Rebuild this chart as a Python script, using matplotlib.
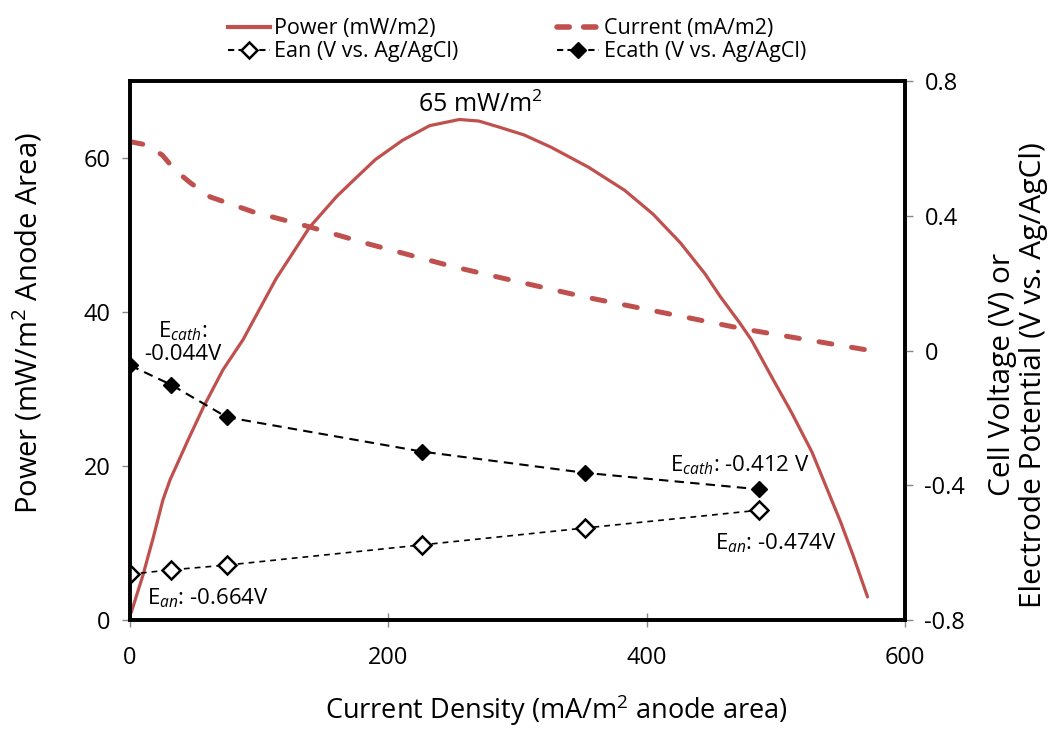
import matplotlib
matplotlib.use("Agg")
import matplotlib.pyplot as plt
from matplotlib.lines import Line2D

plt.rcParams['font.family'] = ['Open Sans', 'DejaVu Sans']
plt.rcParams['mathtext.fontset'] = 'custom'
plt.rcParams['mathtext.rm'] = 'Open Sans'
plt.rcParams['mathtext.it'] = 'Open Sans:italic'

# Power density curve (mW/m2) vs current density (mA/m2)
power_x = [1, 10, 18, 25.5, 31, 45, 57, 72, 87.5, 113, 139, 160, 173, 190,
           211, 232, 255, 270, 286, 305, 326, 355, 383, 405, 426, 445, 457,
           472, 481, 498, 512, 528, 550, 560, 571]
power_y = [1.0, 5.8, 10.7, 15.6, 18.2, 23.4, 27.7, 32.5, 36.4, 44.3, 51.0,
           55.0, 57.1, 59.8, 62.3, 64.2, 65.0, 64.8, 64.0, 63.0, 61.4, 58.8,
           55.8, 52.7, 49.0, 45.0, 42.0, 38.6, 36.4, 31.2, 27.0, 21.8, 12.8,
           8.3, 3.0]

# Cell voltage (V)
volt_x = [0, 13, 25, 35, 47, 62, 95, 139, 183, 250, 295, 352, 430, 475, 570]
volt_y = [0.62, 0.61, 0.58, 0.535, 0.497, 0.456, 0.412, 0.367, 0.318, 0.249,
          0.209, 0.159, 0.099, 0.064, 0.002]

# Electrode potentials (V vs. Ag/AgCl)
elec_x = [0, 32, 75, 226, 352, 487]
ecath = [-0.044, -0.102, -0.198, -0.300, -0.363, -0.412]
ean = [-0.664, -0.651, -0.637, -0.577, -0.527, -0.474]

red = '#C0504D'

fig = plt.figure(figsize=(10.5, 7.29), dpi=100)
ax = fig.add_axes([0.1238, 0.1495, 0.7381, 0.7394])
ax2 = ax.twinx()

ax.plot(power_x, power_y, color=red, lw=2.3, solid_capstyle='round',
        solid_joinstyle='round')
ax2.plot(volt_x, volt_y, color=red, lw=3.6, dashes=(2.6, 4.0),
         dash_capstyle='round')
ax2.plot(elec_x, ecath, color='black', lw=1.5, dashes=(4.5, 3),
         marker='D', ms=8, mfc='black', mec='black')
ax2.plot(elec_x, ean, color='black', lw=1.2, dashes=(3.5, 3),
         marker='D', ms=9, mfc='white', mec='black', mew=1.8)

ax.set_xlim(0, 600)
ax.set_ylim(0, 70)
ax2.set_ylim(-0.8, 0.8)
ax.set_xticks([0, 200, 400, 600])
ax.set_yticks([0, 20, 40, 60])
ax2.set_yticks([-0.8, -0.4, 0, 0.4, 0.8])
ax2.set_yticklabels(['-0.8', '-0.4', '0', '0.4', '0.8'])

for a in (ax, ax2):
    for s in a.spines.values():
        s.set_linewidth(2.6)
        s.set_color('black')
    a.tick_params(length=6, width=1, color='#888888', labelsize=17, pad=8)
ax.tick_params(axis='x', direction='inout', length=10, pad=14)
ax.patch.set_visible(False)

ax.set_xlabel('Current Density (mA/m$^2$ anode area)', fontsize=19.5,
              va='center')
ax.xaxis.set_label_coords(0.55, -0.167)
ax.set_ylabel('Power (mW/m$^2$ Anode Area)', fontsize=21, va='center')
ax.yaxis.set_label_coords(-0.132, 0.55)
ax2.set_ylabel('Cell Voltage (V) or\nElectrode Potential (V vs. Ag/AgCl)',
               fontsize=21.5, rotation=90, va='center', ha='center',
               linespacing=1.08)
ax2.yaxis.set_label_coords(1.146, 0.455)

ax.text(271, 65.2, '65 mW/m$^2$', fontsize=18, ha='center', va='bottom')
ax2.text(41, 0.025, 'E$_{cath}$:\n-0.044V', fontsize=16, ha='center',
         va='center', linespacing=1.1)
ax2.text(472, -0.34, 'E$_{cath}$: -0.412 V', fontsize=16, ha='center',
         va='center')
ax2.text(500, -0.571, 'E$_{an}$: -0.474V', fontsize=16, ha='center',
         va='center')
ax2.text(13, -0.734, 'E$_{an}$: -0.664V', fontsize=16, ha='left',
         va='center')

handles = [
    Line2D([], [], color=red, lw=3),
    Line2D([], [], color='black', lw=1.5, dashes=(3, 2), marker='D', ms=8,
           mfc='white', mec='black', mew=1.8),
    Line2D([], [], color=red, lw=4, dashes=(2.2, 2.6), dash_capstyle='round'),
    Line2D([], [], color='black', lw=1.5, dashes=(3, 2), marker='D', ms=8,
           mfc='black', mec='black'),
]
labels = ['Power (mW/m2)', 'Ean (V vs. Ag/AgCl)',
          'Current (mA/m2)', 'Ecath (V vs. Ag/AgCl)']
fig.legend(handles, labels, loc='upper left', bbox_to_anchor=(0.2067, 0.99),
           ncol=2, frameon=False, fontsize=15.5, handlelength=1.95,
           handletextpad=0.2, columnspacing=4.6, labelspacing=0.1,
           borderpad=0)

fig.savefig('out.png', dpi=100)
